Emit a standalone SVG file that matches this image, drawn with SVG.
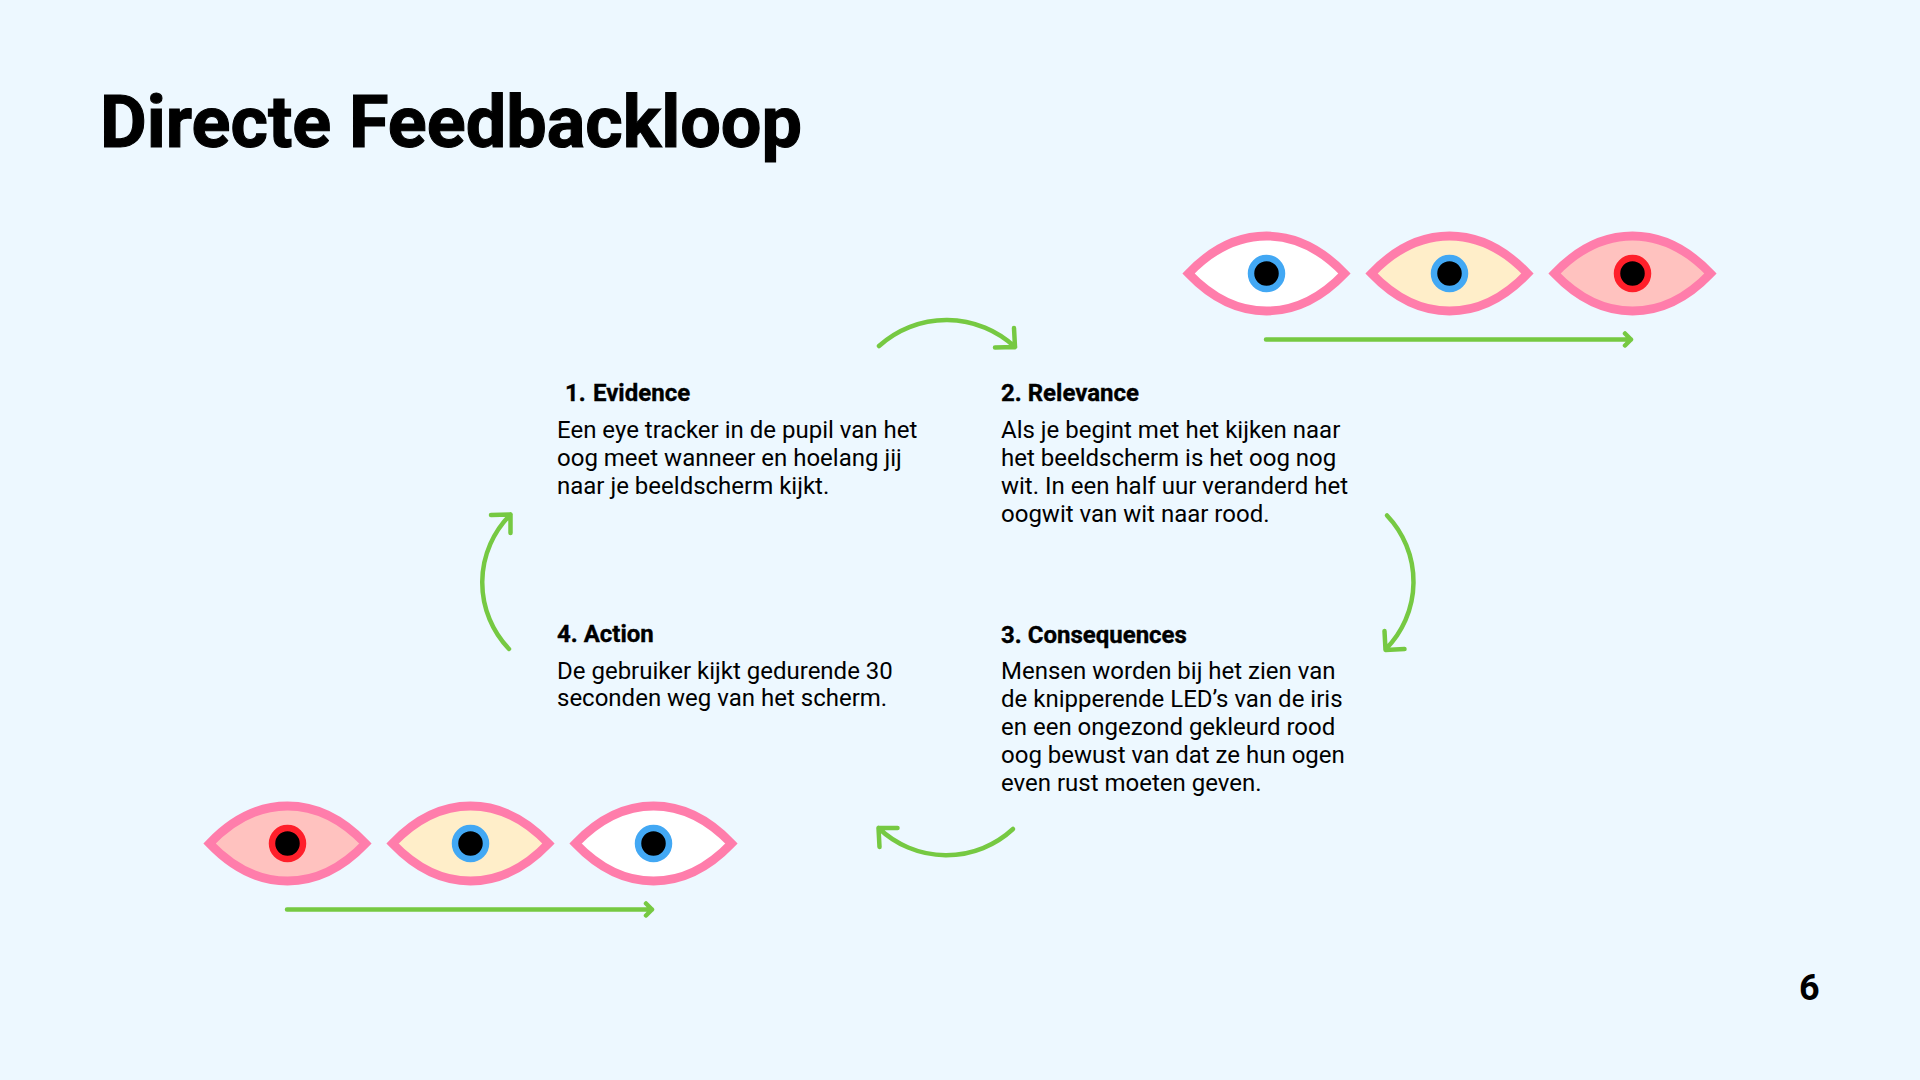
<svg xmlns="http://www.w3.org/2000/svg" width="1920" height="1080" viewBox="0 0 1920 1080">
<style>
text{font-family:Roboto,"Liberation Sans",sans-serif;fill:#000}
.t{font-size:72px;font-weight:700;stroke:#000;stroke-width:1.1px}
.h{font-size:24px;font-weight:700;stroke:#000;stroke-width:.35px}
.b{font-size:24px}
.n{font-size:36px;font-weight:700}
.lid{stroke:#ff7dab;stroke-width:8.8;stroke-linejoin:miter;stroke-miterlimit:10}
.a{fill:none;stroke:#76c942;stroke-width:4.5;stroke-linecap:round;stroke-linejoin:round}
</style>
<defs>
<path id="lid" d="M-78,0C-57,-22 -30,-37.500 0,-37.500C30,-37.500 57,-22 78,0C57,22 30,37.500 0,37.500C-30,37.500 -57,22 -78,0Z"/>
<g id="blue"><circle r="15.500" fill="#000" stroke="#42a8f4" stroke-width="6.500"/></g>
<g id="red"><circle r="15.500" fill="#000" stroke="#ff1f2a" stroke-width="6.500"/></g>
</defs>
<rect width="1920" height="1080" fill="#edf8ff"/>
<text class="t" x="100" y="147">Directe Feedbackloop</text>
<g id="eyes-top">
<g id="eye-top-1" transform="translate(1266.500 273.500)"><use href="#lid" class="lid" fill="#fff"/><use href="#blue"/></g>
<g id="eye-top-2" transform="translate(1449.500 273.500)"><use href="#lid" class="lid" fill="#ffeec9"/><use href="#blue"/></g>
<g id="eye-top-3" transform="translate(1632.500 273.500)"><use href="#lid" class="lid" fill="#ffc2bf"/><use href="#red"/></g>
</g>
<g id="eyes-bottom">
<g id="eye-bottom-1" transform="translate(287.500 843.500)"><use href="#lid" class="lid" fill="#ffc2bf"/><use href="#red"/></g>
<g id="eye-bottom-2" transform="translate(470.500 843.500)"><use href="#lid" class="lid" fill="#ffeec9"/><use href="#blue"/></g>
<g id="eye-bottom-3" transform="translate(653.500 843.500)"><use href="#lid" class="lid" fill="#fff"/><use href="#blue"/></g>
</g>
<g id="connectors">
<path class="a" d="M1266,339.500H1631M1625,333.500L1631,339.500L1625,345.500"/>
<path class="a" d="M287,909.500H652M646,903.500L652,909.500L646,915.500"/>
<path class="a" d="M879,346A100.500,100.500 0 0 1 1015,347M1014,328L1015,347L995,347.500"/>
<path class="a" d="M1387,515.500A96,96 0 0 1 1385.500,649.500M1384.500,631L1385.500,650L1404.500,649"/>
<path class="a" d="M1013,829A98,98 0 0 1 878.500,828M897.500,828L878.500,828L879.500,847"/>
<path class="a" d="M509,649A96,96 0 0 1 510.500,514.500M491,515L510.500,514.500L510.500,533"/>
</g>
<g id="node-1"><text class="h" x="565" y="401">1.</text><text class="h" x="593" y="401">Evidence</text>
<text class="b" x="557" y="438">Een eye tracker in de pupil van het</text><text class="b" x="557" y="466">oog meet wanneer en hoelang jij</text><text class="b" x="557" y="494">naar je beeldscherm kijkt.</text></g>
<g id="node-2"><text class="h" x="1001" y="401">2. Relevance</text>
<text class="b" x="1001" y="438">Als je begint met het kijken naar</text><text class="b" x="1001" y="466">het beeldscherm is het oog nog</text><text class="b" x="1001" y="494">wit. In een half uur veranderd het</text><text class="b" x="1001" y="522">oogwit van wit naar rood.</text></g>
<g id="node-3"><text class="h" x="1001" y="643">3. Consequences</text>
<text class="b" x="1001" y="679">Mensen worden bij het zien van</text><text class="b" x="1001" y="707">de knipperende LED’s van de iris</text><text class="b" x="1001" y="735">en een ongezond gekleurd rood</text><text class="b" x="1001" y="763">oog bewust van dat ze hun ogen</text><text class="b" x="1001" y="791">even rust moeten geven.</text></g>
<g id="node-4"><text class="h" x="557" y="642">4. Action</text>
<text class="b" x="557" y="679">De gebruiker kijkt gedurende 30</text><text class="b" x="557" y="706">seconden weg van het scherm.</text></g>
<text class="n" x="1799" y="1000">6</text>
</svg>
